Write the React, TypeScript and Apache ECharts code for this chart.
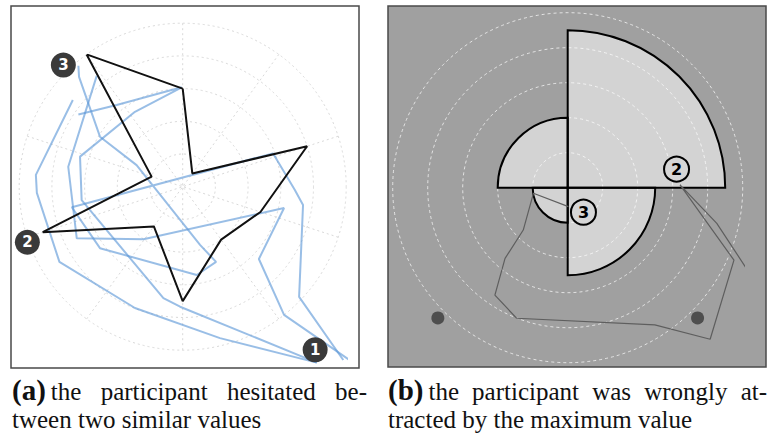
import { useEffect, useRef } from 'react';
import * as echarts from 'echarts';

// ---------- Panel (a): radial "star" stimulus and mouse trajectories ----------
const starAngles = [0, 36, 72, 108, 144, 180, 216, 252, 288, 324];
const starValues = [3, 0.5, 4, 2.5, 2, 3.5, 1.5, 4.5, 1, 5];

const trailA = [
  [-3.36, 2.65], [-4.49, 0.36], [-4.46, -0.19], [-3.77, -2.3], [-1.46, -3.71], [1.14, -4.63], [4.1, -5.38],
];
const trailB = [
  [-3.19, 3.7], [-3.17, 3.36], [-2.53, 1.53], [-1.41, 0.66], [0.53, -1.78], [1.02, -2.3], [0.43, -2.7],
  [-2.53, -1.88], [-3.39, -0.63], [2.76, 1.02], [3.43, -0.1], [3.68, -0.56], [3.56, -3.37], [4.91, -5.3],
];
const trailC = [
  [-2.63, 3.39], [-3.5, 0.61], [-3.24, -1.58], [-1.2, -1.61], [3.1, -0.65], [2.33, -2.21], [3.1, -3.92], [5.32, -5.45],
];
const trailD = [
  [-3.19, 2.21], [-2.02, 2.5], [-0.03, 3.04], [-1.46, 2.29], [-3.14, 0.92], [-3.09, -0.41], [-0.59, -3.41],
  [-0.08, -3.67], [4.1, -5.38],
];
const leftMarkerNames = ['1', '2', '3'];
const leftMarkerPos = [[4.05, -4.99], [-4.75, -1.7], [-3.65, 3.72]];

// ---------- Panel (b): polar bar chart with one trajectory ----------
const sectorCategories = ['0–90°', '90–180°', '180–270°', '270–360°'];
const sectorValues = [4.5, 2.5, 1, 2];
const rightTrail = [
  [5.45, -2.83], [4.26, -1.02], [3.21, 0.08], [4.75, -2.07], [4.07, -4.33], [2.49, -3.92], [-1.46, -3.73],
  [-2.08, -3.07], [-1.79, -2.02], [-1.27, -1.21], [-0.98, -0.16], [0.02, -0.54],
];
const rightDots = [[-3.71, -3.72], [3.71, -3.72]];
const rightMarkerNames = ['1', '2', '3'];
const rightMarkerPos = [[5.19, -3.29], [3.11, 0.53], [0.45, -0.7]];

// ---------- Captions ----------
const captionLabelA = '(a)';
const captionA = ['the participant hesitated be-', 'tween two similar values'];
const captionLabelB = '(b)';
const captionB = ['the participant was wrongly at-', 'tracted by the maximum value'];

const SERIF = "'Liberation Serif', 'Times New Roman', serif";

function measure(text: string, font: string): number {
  const ctx = document.createElement('canvas').getContext('2d');
  if (!ctx) return text.length * 10;
  ctx.font = font;
  return ctx.measureText(text).width;
}

function captionElements(label: string, lines: string[], x0: number, x1: number): any[] {
  const labelSize = 29;
  const bodySize = 25;
  const labelFont = `bold ${labelSize}px ${SERIF}`;
  const bodyFont = `${bodySize}px ${SERIF}`;
  const base1 = 400;
  const base2 = 428;
  const c1 = base1 - 0.34 * bodySize;
  const c2 = base2 - 0.34 * bodySize;
  const cl = base1 - 0.34 * labelSize;
  const els: any[] = [];
  const lw = measure(label, labelFont);
  els.push({
    type: 'text', x: x0, y: cl, z: 10,
    style: { text: label, fontFamily: SERIF, fontSize: labelSize, fontWeight: 'bold', fill: '#111', align: 'left', verticalAlign: 'middle' },
  });
  const words = lines[0].split(' ');
  const widths = words.map((w) => measure(w, bodyFont));
  const start = x0 + lw + 5;
  const total = widths.reduce((a, b) => a + b, 0);
  const gap = (x1 - start - total) / (words.length - 1);
  let cx = start;
  words.forEach((w, i) => {
    els.push({
      type: 'text', x: cx, y: c1, z: 10,
      style: { text: w, fontFamily: SERIF, fontSize: bodySize, fill: '#111', align: 'left', verticalAlign: 'middle' },
    });
    cx += widths[i] + gap;
  });
  els.push({
    type: 'text', x: x0, y: c2, z: 10,
    style: { text: lines[1], fontFamily: SERIF, fontSize: bodySize, fill: '#111', align: 'left', verticalAlign: 'middle' },
  });
  return els;
}

const hidden = { show: false };

export default function App() {
  const ref = useRef<HTMLDivElement>(null);
  useEffect(() => {
    if (!ref.current) return;
    document.body.style.margin = '0';
    const chart = echarts.init(ref.current, null, { renderer: 'svg' });
    const blue = { color: 'rgba(90,150,215,0.62)', width: 2 };
    const lineSeries = (data: number[][], idx: number, style: any, z = 2) => ({
      type: 'line', xAxisIndex: idx, yAxisIndex: idx, data, symbol: 'none', clip: false,
      lineStyle: style, silent: true, z,
    });
    const option: any = {
      animation: false,
      polar: [
        { center: [182.7, 186.7], radius: 163.5 },
        { center: [567.7, 187.7], radius: 175 },
      ],
      angleAxis: [
        {
          polarIndex: 0, type: 'value', min: 0, max: 360, interval: 36, startAngle: 90, clockwise: true,
          axisLine: hidden, axisTick: hidden, axisLabel: hidden,
          splitLine: { show: true, lineStyle: { color: '#d9d9d9', type: [2, 3], width: 1 } },
        },
        {
          polarIndex: 1, type: 'category', data: sectorCategories, startAngle: 90, clockwise: true, boundaryGap: true,
          axisLine: hidden, axisTick: hidden, axisLabel: hidden, splitLine: hidden,
        },
      ],
      radiusAxis: [
        {
          polarIndex: 0, type: 'value', min: 0, max: 5, interval: 1,
          axisLine: hidden, axisTick: hidden, axisLabel: hidden,
          splitLine: { show: true, lineStyle: { color: '#d9d9d9', type: [2, 3], width: 1 } },
        },
        {
          polarIndex: 1, type: 'value', min: 0, max: 5, interval: 1, z: 3,
          axisLine: hidden, axisTick: hidden, axisLabel: hidden,
          splitLine: { show: true, lineStyle: { color: 'rgba(255,255,255,0.7)', type: [3, 3], width: 1 } },
        },
      ],
      grid: [
        { left: 19.2, top: 23.2, width: 327, height: 327 },
        { left: 392.7, top: 12.7, width: 350, height: 350 },
      ],
      xAxis: [
        { gridIndex: 0, type: 'value', min: -5, max: 5, show: false },
        { gridIndex: 1, type: 'value', min: -5, max: 5, show: false },
      ],
      yAxis: [
        { gridIndex: 0, type: 'value', min: -5, max: 5, show: false },
        { gridIndex: 1, type: 'value', min: -5, max: 5, show: false },
      ],
      series: [
        lineSeries(trailA, 0, blue),
        lineSeries(trailB, 0, blue),
        lineSeries(trailC, 0, blue),
        lineSeries(trailD, 0, blue),
        {
          type: 'line', coordinateSystem: 'polar', polarIndex: 0, symbol: 'none', silent: true, z: 3,
          data: [...starValues.map((r, i) => [r, starAngles[i]]), [starValues[0], starAngles[0]]],
          lineStyle: { color: '#111', width: 2 },
        },
        {
          type: 'scatter', xAxisIndex: 0, yAxisIndex: 0, symbolSize: 25, z: 5, silent: true,
          data: leftMarkerNames.map((n, i) => ({ name: n, value: leftMarkerPos[i] })),
          itemStyle: { color: '#3a3a3a', opacity: 1 },
          label: { show: true, position: 'inside', formatter: '{b}', color: '#fff', fontWeight: 'bold', fontSize: 15, fontFamily: 'DejaVu Sans' },
        },
        {
          type: 'bar', coordinateSystem: 'polar', polarIndex: 1, data: sectorValues, barCategoryGap: '0%', barGap: '-100%',
          silent: true, z: 2,
          itemStyle: { color: '#d3d3d3', borderWidth: 0 },
        },
        {
          type: 'bar', coordinateSystem: 'polar', polarIndex: 1, data: sectorValues, barCategoryGap: '0%', barGap: '-100%',
          silent: true, z: 4,
          itemStyle: { color: 'rgba(0,0,0,0)', borderColor: '#000', borderWidth: 2 },
        },
        lineSeries(rightTrail, 1, { color: '#5e5e5e', width: 1.2 }, 4),
        {
          type: 'scatter', xAxisIndex: 1, yAxisIndex: 1, symbolSize: 13, z: 4, silent: true,
          data: rightDots, itemStyle: { color: '#4e4e4e', opacity: 1 },
        },
        {
          type: 'scatter', xAxisIndex: 1, yAxisIndex: 1, symbolSize: 25, z: 5, silent: true,
          data: rightMarkerNames.map((n, i) => ({ name: n, value: rightMarkerPos[i] })),
          itemStyle: { color: '#d6d6d6', borderColor: '#000', borderWidth: 2, opacity: 1 },
          label: { show: true, position: 'inside', formatter: '{b}', color: '#000', fontWeight: 'bold', fontSize: 16, fontFamily: 'DejaVu Sans' },
        },
      ],
      graphic: [
        {
          type: 'rect', z: -10, silent: true,
          shape: { x: 11, y: 6, width: 348, height: 362 },
          style: { fill: '#fff', stroke: '#4a4a4a', lineWidth: 1.5 },
        },
        {
          type: 'rect', z: -10, silent: true,
          shape: { x: 388, y: 6, width: 378, height: 361 },
          style: { fill: '#a0a0a0', stroke: '#4a4a4a', lineWidth: 1.5 },
        },
        ...captionElements(captionLabelA, captionA, 12, 367),
        ...captionElements(captionLabelB, captionB, 388, 767),
      ],
    };
    chart.setOption(option);
    return () => chart.dispose();
  }, []);
  return <div ref={ref} style={{ position: 'fixed', left: 0, top: 0, width: 769, height: 437, background: '#fff' }} />;
}
